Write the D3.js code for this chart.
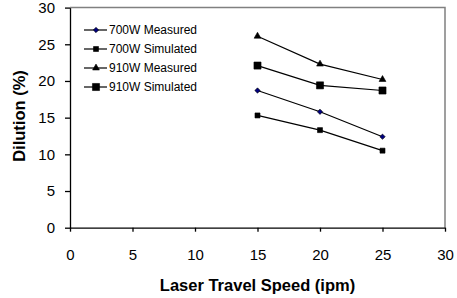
<!DOCTYPE html>
<html><head><meta charset="utf-8">
<script src="https://cdn.jsdelivr.net/npm/d3@7/dist/d3.min.js"></script>
<style>body{margin:0;background:#fff}svg{display:block}text{font-family:"Liberation Sans",Arial,sans-serif}</style>
</head><body>
<svg id="c" width="457" height="298"></svg>
<script>
const speeds = [15, 20, 25];
const seriesNames = ["700W Measured", "700W Simulated", "910W Measured", "910W Simulated"];
const m700 = [18.7, 15.8, 12.4];
const s700 = [15.3, 13.3, 10.5];
const m910 = [26.1, 22.3, 20.2];
const s910 = [22.1, 19.4, 18.7];
const xTicks = [0, 5, 10, 15, 20, 25, 30];
const yTicks = [0, 5, 10, 15, 20, 25, 30];

const svg = d3.select("#c");
const x = d3.scaleLinear().domain([0, 30]).range([70, 445]);
const y = d3.scaleLinear().domain([0, 30]).range([227.7, 7.6]);

// frame (top & right)
svg.append("path").attr("d", `M${x(0)},${y(30)}H${x(30)}V${y(0)}`)
  .attr("fill", "none").attr("stroke", "#808080").attr("stroke-width", 1.5);

const xa = svg.append("g").attr("transform", `translate(0,${y(0)})`)
  .call(d3.axisBottom(x).tickValues(xTicks).tickSize(4).tickPadding(18).tickSizeOuter(0));
const ya = svg.append("g").attr("transform", `translate(${x(0)},0)`)
  .call(d3.axisLeft(y).tickValues(yTicks).tickSize(5).tickPadding(10).tickSizeOuter(0));
[xa, ya].forEach(a => {
  a.selectAll("path,line").attr("stroke", "#000").attr("stroke-width", 1.3);
  a.selectAll("text").attr("font-size", 15).attr("fill", "#000").attr("font-family", '"Liberation Sans",Arial,sans-serif');
});

svg.append("text").attr("x", 257.5).attr("y", 291).attr("text-anchor", "middle")
  .attr("font-size", 16.5).attr("font-weight", "bold").text("Laser Travel Speed (ipm)");
svg.append("text").attr("transform", "translate(25,116) rotate(-90)").attr("text-anchor", "middle")
  .attr("font-size", 16.5).attr("font-weight", "bold").text("Dilution (%)");

const data = [m700, s700, m910, s910];
const markers = [
  {t: d3.symbolSquare, s: 14, rot: 45, fill: "#000080"},
  {t: d3.symbolSquare, s: 25, rot: 0, fill: "#000"},
  {t: d3.symbolTriangle, s: 20, rot: 0, fill: "#000"},
  {t: d3.symbolSquare, s: 50, rot: 0, fill: "#000"}
];
const line = d3.line().x((d, i) => x(speeds[i])).y(d => y(d));
data.forEach((vals, k) => {
  svg.append("path").attr("d", line(vals)).attr("fill", "none").attr("stroke", "#000").attr("stroke-width", 1.2);
  svg.selectAll(null).data(vals).enter().append("path")
    .attr("transform", (d, i) => `translate(${x(speeds[i])},${y(d)}) rotate(${markers[k].rot})`)
    .attr("d", d3.symbol().type(markers[k].t).size(markers[k].s))
    .attr("fill", markers[k].fill).attr("stroke", "#000").attr("stroke-width", 0.6);
});

// legend
const lg = svg.append("g");
seriesNames.forEach((n, k) => {
  const yy = 30 + k * 19;
  lg.append("line").attr("x1", 84).attr("x2", 107).attr("y1", yy).attr("y2", yy).attr("stroke", "#000").attr("stroke-width", 1.2);
  lg.append("path").attr("transform", `translate(96,${yy}) rotate(${markers[k].rot})`)
    .attr("d", d3.symbol().type(markers[k].t).size(markers[k].s))
    .attr("fill", markers[k].fill).attr("stroke", "#000").attr("stroke-width", 0.6);
  lg.append("text").attr("x", 109).attr("y", yy).attr("dy", "0.35em").attr("font-size", 12).text(n);
});
</script>
</body></html>
